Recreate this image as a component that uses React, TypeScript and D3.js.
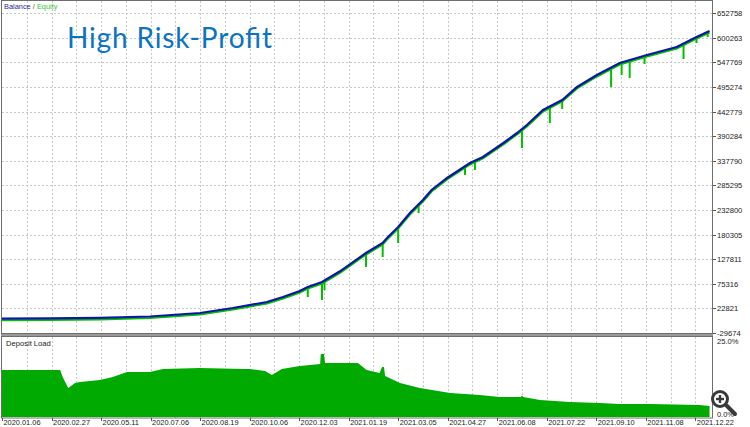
import React, { useEffect } from "react";
import * as d3 from "d3";

const W = 750;
const H = 427;

// x axis: deal index; labels every 80 deals, grid every 40
const xLabels = [
  "2020.01.06", "2020.02.27", "2020.05.11", "2020.07.06", "2020.08.19",
  "2020.10.06", "2020.12.03", "2021.01.19", "2021.03.05", "2021.04.27",
  "2021.06.08", "2021.07.22", "2021.09.10", "2021.11.08", "2021.12.22",
];
const yTicks = [
  -29674, 22821, 75316, 127811, 180305, 232800, 285295, 337790, 390284,
  442779, 495274, 547769, 600263, 652758,
];

// balance curve: [deal index, balance]
const balanceIdx = [
  0, 77, 158, 239, 320, 373, 428, 454, 481, 494, 517, 546, 588, 615, 622, 640,
  659, 680, 694, 719, 756, 777, 810, 832, 848, 874, 905, 929, 961, 998, 1042,
  1090, 1122, 1143,
];
const balanceVals = [
  1000, 1500, 2500, 5500, 13000, 23700, 36500, 47100, 60000, 68500, 79200,
  102000, 141000, 162400, 173000, 196500, 226400, 254100, 275500, 301100,
  333100, 345900, 375800, 397100, 414200, 446200, 467500, 495300, 520900,
  546500, 563600, 580700, 602000, 614800,
];

// equity drawdown spikes: [deal index, lowest equity]
const spikeIdx = [
  494, 517, 521, 588, 615, 640, 673, 748, 764, 806, 840, 885, 905, 984, 1001,
  1014, 1038, 1074, 1101, 1122, 1140,
];
const spikeLow = [
  47150, 40750, 62000, 111200, 132500, 162400, 226400, 307500, 318200, 368000,
  365100, 418500, 448300, 495300, 520900, 514500, 544400, 570000, 555000,
  589200, 602000,
];

// deposit load (%)
const loadIdx = [
  0, 94, 98, 107, 118, 126, 158, 179, 202, 239, 260, 320, 392, 400, 425, 436,
  452, 481, 514, 515, 520, 522, 554, 575, 589, 610, 614, 617, 619, 643, 675,
  724, 772, 804, 838, 840, 842, 869, 917, 966, 998, 1047, 1127, 1143,
];
const loadVals = [
  14.7, 14.7, 12.5, 9.1, 10.6, 10.9, 11.6, 12.5, 14.1, 14.1, 15.0, 15.3, 15.0,
  15.0, 14.4, 13.1, 15.0, 15.9, 16.6, 19.7, 19.7, 16.9, 16.9, 16.9, 14.7,
  13.75, 15.6, 15.6, 12.8, 10.6, 9.1, 7.5, 6.9, 6.25, 6.25, 6.7, 6.25, 5.3,
  4.7, 4.4, 4.1, 4.1, 3.75, 3.4,
];

const FONT = "'Liberation Sans', Arial, sans-serif";

export default function App() {
  useEffect(() => {
    document.body.style.margin = "0";
  }, []);

  const x = d3.scaleLinear().domain([0, 1147]).range([2, 712]);
  const y = d3
    .scaleLinear()
    .domain([yTicks[0], yTicks[yTicks.length - 1]])
    .range([333, 13.2]);
  const yl = d3.scaleLinear().domain([0, 25]).range([417, 337]);

  const bal = balanceIdx.map((d, i) => [d, balanceVals[i]] as [number, number]);
  const line = d3
    .line<[number, number]>()
    .x((d) => x(d[0]))
    .y((d) => y(d[1]));
  const balPath = line(bal) || "";

  const balAt = (i: number) => {
    const j = d3.bisector((d: [number, number]) => d[0]).left(bal, i);
    if (j <= 0) return bal[0][1];
    if (j >= bal.length) return bal[bal.length - 1][1];
    const a = bal[j - 1];
    const b = bal[j];
    return a[1] + ((b[1] - a[1]) * (i - a[0])) / (b[0] - a[0]);
  };

  const load = loadIdx.map((d, i) => [d, loadVals[i]] as [number, number]);
  const area = d3
    .area<[number, number]>()
    .x((d) => x(d[0]))
    .y0(yl(0))
    .y1((d) => yl(d[1]))
    .curve(d3.curveLinear);
  const loadPath = area(load) || "";

  const gridV = d3.range(40, 1147, 40);

  return (
    <div style={{ position: "absolute", left: 0, top: 0 }}>
      <svg width={W} height={H} style={{ display: "block" }}>
        <rect x={0} y={0} width={W} height={H} fill="#ffffff" />
        {/* main grid */}
        {yTicks.slice(1).map((t) => (
          <line
            key={"h" + t}
            x1={2}
            x2={712}
            y1={Math.round(y(t)) + 0.5}
            y2={Math.round(y(t)) + 0.5}
            stroke="#c8c8c8"
            strokeDasharray="2,2"
          />
        ))}
        {gridV.map((g) => (
          <g key={"v" + g}>
            <line
              x1={Math.round(x(g)) + 0.5}
              x2={Math.round(x(g)) + 0.5}
              y1={1}
              y2={333}
              stroke="#c8c8c8"
              strokeDasharray="2,2"
            />
            <line
              x1={Math.round(x(g)) + 0.5}
              x2={Math.round(x(g)) + 0.5}
              y1={337}
              y2={418}
              stroke="#c8c8c8"
              strokeDasharray="2,2"
            />
          </g>
        ))}

        {/* equity */}
        <path
          d={balPath}
          fill="none"
          stroke="#00c000"
          strokeWidth={2}
          transform="translate(0,1.5)"
        />
        {spikeIdx.map((s, i) => (
          <line
            key={"s" + i}
            x1={x(s)}
            x2={x(s)}
            y1={y(balAt(s))}
            y2={y(spikeLow[i])}
            stroke="#00c000"
            strokeWidth={2}
          />
        ))}
        {/* balance */}
        <path d={balPath} fill="none" stroke="#0c16a6" strokeWidth={2.2} />

        {/* deposit load */}
        <path d={loadPath} fill="#00aa00" />

        {/* frames */}
        <rect x={1.5} y={0.5} width={711} height={333} fill="none" stroke="#6e6e6e" />
        <rect x={1} y={334} width={712} height={2} fill="#9a9a9a" />
        <rect x={1.5} y={336.5} width={711} height={81.5} fill="none" stroke="#6e6e6e" />

        {/* right axis */}
        {yTicks.map((t) => (
          <g key={"yt" + t}>
            <line
              x1={713}
              x2={716}
              y1={Math.round(y(t)) + 0.5}
              y2={Math.round(y(t)) + 0.5}
              stroke="#555"
            />
            <text
              x={717}
              y={y(t) + 3}
              fontFamily={FONT}
              fontSize={7.6}
              fill="#222"
            >
              {t}
            </text>
          </g>
        ))}
        <text x={717} y={344} fontFamily={FONT} fontSize={7.6} fill="#222">
          25.0%
        </text>
        <text x={717} y={417} fontFamily={FONT} fontSize={7.4} fill="#222">
          0.0%
        </text>

        {/* bottom axis */}
        {xLabels.map((l, i) => (
          <g key={"xl" + i}>
            <line
              x1={Math.round(x(i * 80)) + 0.5}
              x2={Math.round(x(i * 80)) + 0.5}
              y1={418}
              y2={421}
              stroke="#555"
            />
            <text
              x={x(i * 80) + 1.5}
              y={425.4}
              fontFamily={FONT}
              fontSize={7.4}
              fill="#222"
            >
              {l}
            </text>
          </g>
        ))}

        {/* labels */}
        <text x={4} y={8.5} fontFamily={FONT} fontSize={7.4}>
          <tspan fill="#2828a0">Balance</tspan>
          <tspan fill="#555"> / </tspan>
          <tspan fill="#3cbe3c">Equity</tspan>
        </text>
        <text x={6} y={346} fontFamily={FONT} fontSize={7.6} fill="#222">
          Deposit Load
        </text>
        <text
          x={67}
          y={48}
          fontFamily="Lato, 'Open Sans', sans-serif"
          fontSize={28}
          textLength={205}
          fill="#0a74c2"
        >
          High Risk-Profit
        </text>

        {/* magnifier icon */}
        <g>
          <line
            x1={726}
            y1={405}
            x2={735}
            y2={414}
            stroke="#3a3a3a"
            strokeWidth={4}
            strokeLinecap="round"
          />
          <circle cx={720} cy={399} r={7.5} fill="#ffffff" stroke="#3a3a3a" strokeWidth={3} />
          <line x1={716} x2={724} y1={399} y2={399} stroke="#3a3a3a" strokeWidth={2.4} />
          <line x1={720} x2={720} y1={395} y2={403} stroke="#3a3a3a" strokeWidth={2.4} />
        </g>
      </svg>
    </div>
  );
}
